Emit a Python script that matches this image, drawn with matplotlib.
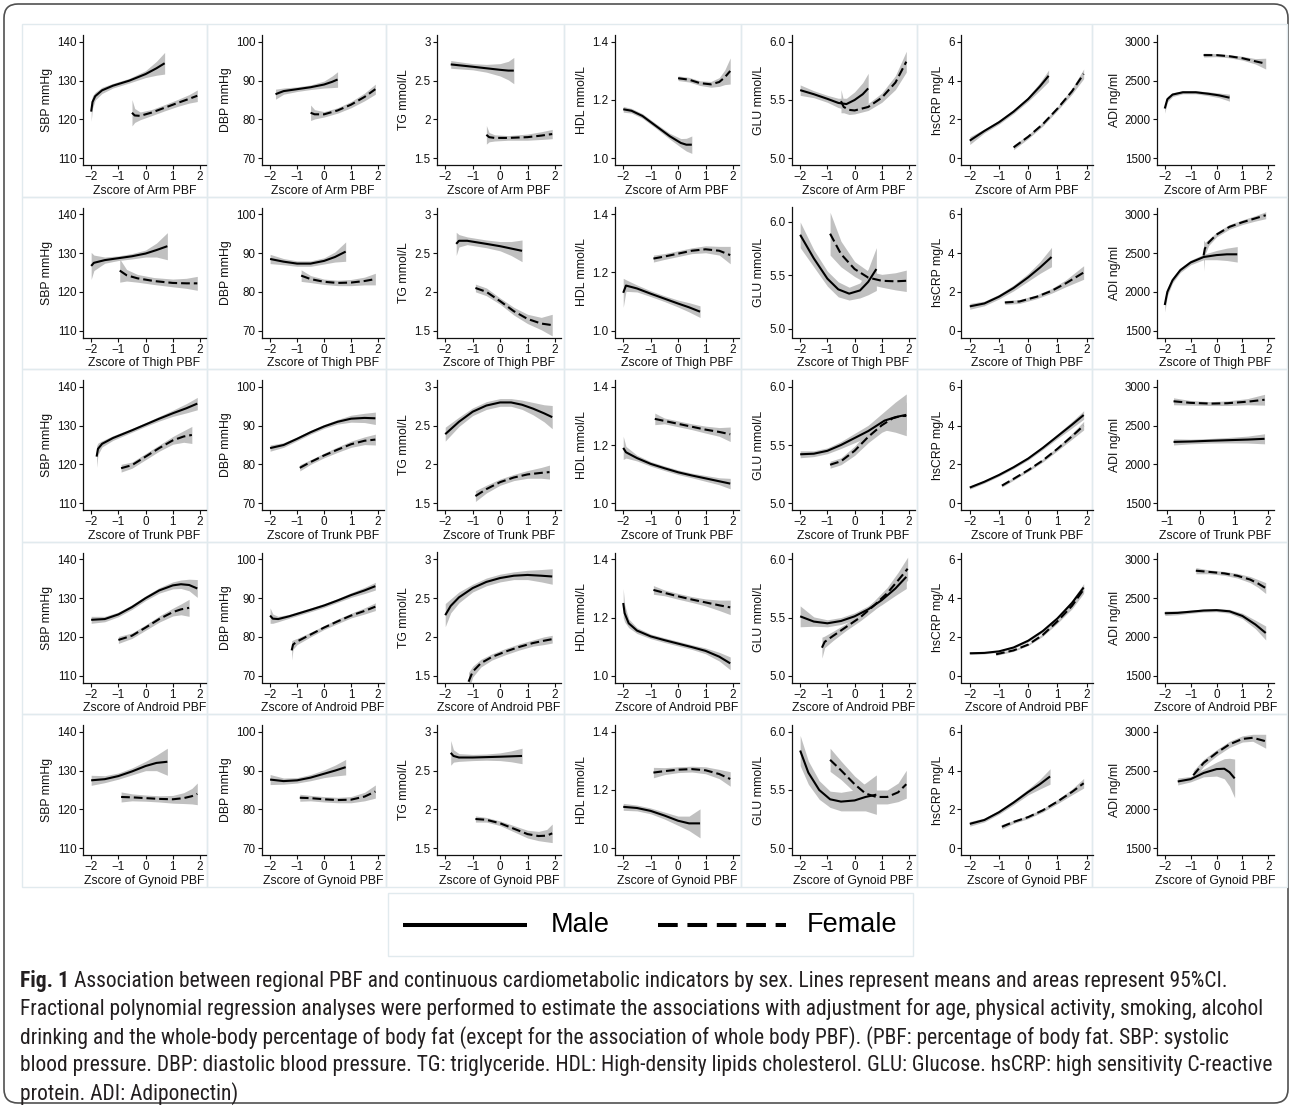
import matplotlib
matplotlib.use("Agg")
import matplotlib.pyplot as plt
from matplotlib import font_manager
from matplotlib.patches import Rectangle, FancyBboxPatch
import numpy as np

# ---------------- data (x = z-score, y = mean, h = CI half width) ----------------
REGIONS = ["Arm", "Thigh", "Trunk", "Android", "Gynoid"]
INDICATORS = ["SBP mmHg", "DBP mmHg", "TG mmol/L", "HDL mmol/L", "GLU mmol/L", "hsCRP mg/L", "ADI ng/ml"]
YTICKS = [[110, 120, 130, 140], [70, 80, 90, 100], [1.5, 2, 2.5, 3], [1.0, 1.2, 1.4],
          [5.0, 5.5, 6.0], [0, 2, 4, 6], [1500, 2000, 2500, 3000]]
YTICKLABELS = [["110", "120", "130", "140"], ["70", "80", "90", "100"], ["1.5", "2", "2.5", "3"],
               ["1.0", "1.2", "1.4"], ["5.0", "5.5", "6.0"], ["0", "2", "4", "6"],
               ["1500", "2000", "2500", "3000"]]
XTICKS = [-2, -1, 0, 1, 2]
XTICKS_TRUNK_ADI = [-1, 0, 1, 2]

# Arm
SBP_ARM_M = [(-2.0, 122.0, 2.5), (-1.95, 124.5, 1.6), (-1.85, 126.0, 1.0), (-1.6, 127.5, 0.8), (-1.2, 128.7, 0.6), (-0.6, 130.0, 0.6), (0.0, 131.7, 0.9), (0.4, 133.2, 1.8), (0.7, 134.5, 2.8)]
SBP_ARM_F = [(-0.5, 121.7, 3.4), (-0.4, 121.0, 1.8), (-0.2, 120.9, 1.0), (0.2, 121.7, 0.8), (0.7, 123.0, 0.8), (1.2, 124.3, 0.9), (1.6, 125.3, 1.1), (1.9, 126.1, 1.5)]
DBP_ARM_M = [(-1.8, 86.5, 1.3), (-1.5, 87.3, 0.8), (-1.0, 87.8, 0.6), (-0.5, 88.3, 0.6), (0.0, 89.0, 0.9), (0.3, 89.7, 1.5), (0.5, 90.3, 2.0)]
DBP_ARM_F = [(-0.5, 81.7, 2.0), (-0.35, 81.3, 1.2), (0.0, 81.3, 0.7), (0.5, 82.3, 0.7), (1.0, 83.8, 0.8), (1.5, 85.8, 1.0), (1.9, 87.8, 1.3)]
TG_ARM_M = [(-1.8, 2.71, 0.05), (-1.0, 2.68, 0.04), (-0.5, 2.66, 0.05), (0.0, 2.64, 0.08), (0.3, 2.63, 0.12), (0.5, 2.63, 0.17)]
TG_ARM_F = [(-0.5, 1.80, 0.12), (-0.4, 1.77, 0.06), (-0.2, 1.76, 0.04), (0.3, 1.76, 0.03), (1.0, 1.77, 0.04), (1.5, 1.79, 0.05), (1.9, 1.81, 0.06)]
HDL_ARM_M = [(-2.0, 1.168, 0.01), (-1.7, 1.163, 0.008), (-1.3, 1.145, 0.008), (-0.8, 1.11, 0.008), (-0.3, 1.075, 0.01), (0.1, 1.052, 0.015), (0.3, 1.046, 0.022), (0.5, 1.046, 0.03)]
HDL_ARM_F = [(0.0, 1.275, 0.008), (0.4, 1.270, 0.008), (0.8, 1.258, 0.008), (1.2, 1.254, 0.01), (1.5, 1.262, 0.015), (1.7, 1.278, 0.025), (1.9, 1.300, 0.045)]
GLU_ARM_M = [(-2.0, 5.585, 0.045), (-1.5, 5.55, 0.03), (-1.0, 5.51, 0.03), (-0.6, 5.475, 0.04), (-0.3, 5.465, 0.05), (0.0, 5.50, 0.07), (0.3, 5.55, 0.1), (0.5, 5.60, 0.13)]
GLU_ARM_F = [(-0.5, 5.49, 0.1), (-0.4, 5.44, 0.05), (-0.2, 5.415, 0.04), (0.0, 5.41, 0.03), (0.5, 5.44, 0.03), (1.0, 5.52, 0.04), (1.5, 5.65, 0.06), (1.9, 5.83, 0.09)]
CRP_ARM_M = [(-2.0, 0.9, 0.2), (-1.5, 1.4, 0.1), (-1.0, 1.85, 0.1), (-0.5, 2.4, 0.1), (0.0, 3.05, 0.12), (0.4, 3.7, 0.2), (0.7, 4.25, 0.3)]
CRP_ARM_F = [(-0.5, 0.55, 0.12), (0.0, 1.1, 0.1), (0.5, 1.75, 0.1), (1.0, 2.55, 0.1), (1.5, 3.45, 0.15), (1.9, 4.35, 0.25)]
ADI_ARM_M = [(-2.0, 2140, 60), (-1.9, 2260, 35), (-1.7, 2320, 25), (-1.3, 2350, 20), (-0.8, 2350, 20), (-0.3, 2330, 25), (0.1, 2310, 30), (0.5, 2280, 45)]
ADI_ARM_F = [(-0.5, 2830, 25), (0.0, 2830, 20), (0.5, 2815, 20), (1.0, 2790, 25), (1.5, 2750, 35), (1.9, 2720, 70)]

# Thigh
SBP_THIGH_M = [(-2.0, 126.7, 3.5), (-1.9, 127.5, 2.0), (-1.5, 128.2, 0.8), (-1.0, 128.7, 0.6), (-0.5, 129.2, 0.7), (0.0, 129.9, 0.9), (0.4, 130.8, 1.8), (0.8, 131.8, 3.5)]
SBP_THIGH_F = [(-0.95, 125.5, 3.0), (-0.7, 124.3, 1.5), (-0.3, 123.5, 1.0), (0.3, 122.8, 0.9), (1.0, 122.3, 1.0), (1.5, 122.2, 1.3), (1.9, 122.2, 1.8)]
DBP_THIGH_M = [(-2.0, 88.5, 1.2), (-1.5, 87.8, 0.8), (-1.0, 87.3, 0.7), (-0.5, 87.3, 0.7), (0.0, 88.0, 0.8), (0.4, 89.0, 1.3), (0.8, 90.4, 2.5)]
DBP_THIGH_F = [(-0.85, 84.2, 1.5), (-0.5, 83.3, 0.9), (0.0, 82.6, 0.7), (0.5, 82.3, 0.7), (1.0, 82.4, 0.8), (1.5, 82.8, 1.0), (1.9, 83.3, 1.5)]
TG_THIGH_M = [(-1.6, 2.62, 0.15), (-1.5, 2.66, 0.08), (-1.2, 2.66, 0.05), (-0.5, 2.62, 0.05), (0.0, 2.59, 0.06), (0.4, 2.56, 0.09), (0.8, 2.53, 0.14)]
TG_THIGH_F = [(-0.9, 2.05, 0.05), (-0.5, 2.0, 0.05), (0.0, 1.88, 0.04), (0.5, 1.75, 0.05), (1.0, 1.65, 0.06), (1.5, 1.59, 0.08), (1.9, 1.57, 0.14)]
HDL_THIGH_M = [(-2.0, 1.13, 0.05), (-1.9, 1.155, 0.02), (-1.5, 1.145, 0.012), (-1.0, 1.127, 0.01), (-0.5, 1.11, 0.01), (0.0, 1.093, 0.012), (0.4, 1.08, 0.016), (0.8, 1.065, 0.02)]
HDL_THIGH_F = [(-0.9, 1.248, 0.012), (-0.5, 1.255, 0.01), (0.0, 1.265, 0.01), (0.5, 1.275, 0.01), (1.0, 1.28, 0.012), (1.5, 1.275, 0.015), (1.9, 1.26, 0.03)]
GLU_THIGH_M = [(-2.0, 5.88, 0.12), (-1.5, 5.66, 0.08), (-1.0, 5.47, 0.07), (-0.6, 5.37, 0.07), (-0.2, 5.33, 0.06), (0.2, 5.36, 0.07), (0.5, 5.44, 0.12), (0.8, 5.56, 0.2)]
GLU_THIGH_F = [(-0.9, 5.89, 0.2), (-0.5, 5.7, 0.12), (0.0, 5.56, 0.07), (0.5, 5.48, 0.06), (1.0, 5.45, 0.06), (1.5, 5.445, 0.08), (1.9, 5.45, 0.1)]
CRP_THIGH_M = [(-2.0, 1.25, 0.15), (-1.5, 1.4, 0.12), (-1.0, 1.75, 0.12), (-0.5, 2.2, 0.15), (0.0, 2.75, 0.2), (0.4, 3.25, 0.3), (0.8, 3.8, 0.5)]
CRP_THIGH_F = [(-0.8, 1.45, 0.1), (-0.3, 1.5, 0.1), (0.3, 1.75, 0.1), (0.8, 2.05, 0.12), (1.3, 2.45, 0.18), (1.9, 3.0, 0.35)]
ADI_THIGH_M = [(-2.0, 1830, 90), (-1.9, 2000, 50), (-1.7, 2150, 35), (-1.4, 2280, 30), (-1.0, 2380, 30), (-0.5, 2450, 35), (0.0, 2475, 60), (0.4, 2485, 80), (0.8, 2485, 100)]
ADI_THIGH_F = [(-0.5, 2470, 200), (-0.45, 2560, 80), (-0.3, 2640, 40), (0.0, 2740, 30), (0.5, 2840, 30), (1.0, 2900, 30), (1.5, 2950, 35), (1.9, 2990, 45)]

# Trunk
SBP_TRUNK_M = [(-1.8, 122.0, 2.8), (-1.75, 124.0, 1.5), (-1.6, 125.3, 0.8), (-1.2, 126.8, 0.6), (-0.5, 128.8, 0.5), (0.0, 130.3, 0.5), (0.5, 131.8, 0.6), (1.0, 133.2, 0.8), (1.5, 134.5, 1.2), (1.9, 135.7, 1.6)]
SBP_TRUNK_F = [(-0.9, 119.0, 1.0), (-0.5, 119.8, 0.8), (0.0, 122.0, 0.8), (0.5, 124.2, 0.8), (1.0, 126.2, 1.0), (1.4, 127.2, 1.5), (1.7, 127.6, 2.2)]
DBP_TRUNK_M = [(-2.0, 84.2, 0.8), (-1.5, 85.0, 0.6), (-1.0, 86.6, 0.5), (-0.5, 88.3, 0.5), (0.0, 89.8, 0.5), (0.5, 91.0, 0.6), (1.0, 91.8, 0.9), (1.5, 92.0, 1.2), (1.9, 91.9, 1.6)]
DBP_TRUNK_F = [(-0.9, 79.1, 0.8), (-0.5, 80.6, 0.6), (0.0, 82.3, 0.6), (0.5, 83.8, 0.7), (1.0, 85.2, 0.8), (1.5, 86.1, 1.0), (1.9, 86.4, 1.4)]
TG_TRUNK_M = [(-2.0, 2.39, 0.09), (-1.5, 2.55, 0.06), (-1.0, 2.68, 0.05), (-0.5, 2.76, 0.05), (0.0, 2.80, 0.05), (0.4, 2.80, 0.05), (0.8, 2.77, 0.06), (1.2, 2.72, 0.08), (1.6, 2.66, 0.11), (1.9, 2.61, 0.15)]
TG_TRUNK_F = [(-0.9, 1.59, 0.07), (-0.5, 1.68, 0.05), (0.0, 1.77, 0.04), (0.5, 1.83, 0.04), (1.0, 1.87, 0.05), (1.5, 1.89, 0.07), (1.8, 1.90, 0.09)]
HDL_TRUNK_M = [(-2.0, 1.19, 0.04), (-1.9, 1.175, 0.02), (-1.5, 1.155, 0.01), (-1.0, 1.135, 0.008), (-0.5, 1.12, 0.008), (0.0, 1.106, 0.008), (0.5, 1.095, 0.008), (1.0, 1.085, 0.01), (1.5, 1.075, 0.012), (1.9, 1.067, 0.018)]
HDL_TRUNK_F = [(-0.85, 1.29, 0.02), (-0.5, 1.283, 0.01), (0.0, 1.273, 0.01), (0.5, 1.263, 0.01), (1.0, 1.253, 0.012), (1.5, 1.245, 0.015), (1.9, 1.237, 0.025)]
GLU_TRUNK_M = [(-2.0, 5.42, 0.03), (-1.5, 5.425, 0.025), (-1.0, 5.45, 0.025), (-0.5, 5.50, 0.03), (0.0, 5.56, 0.04), (0.5, 5.62, 0.05), (1.1, 5.71, 0.08), (1.5, 5.74, 0.13), (1.9, 5.76, 0.18)]
GLU_TRUNK_F = [(-0.9, 5.33, 0.03), (-0.5, 5.36, 0.03), (0.0, 5.45, 0.04), (0.5, 5.57, 0.05), (1.0, 5.67, 0.06), (1.4, 5.73, 0.08), (1.7, 5.75, 0.1), (1.9, 5.75, 0.12)]
CRP_TRUNK_M = [(-2.0, 0.8, 0.08), (-1.5, 1.1, 0.07), (-1.0, 1.45, 0.07), (-0.5, 1.85, 0.07), (0.0, 2.3, 0.08), (0.5, 2.85, 0.09), (1.0, 3.45, 0.12), (1.5, 4.05, 0.17), (1.9, 4.55, 0.22)]
CRP_TRUNK_F = [(-0.9, 0.9, 0.08), (-0.5, 1.25, 0.07), (0.0, 1.7, 0.07), (0.5, 2.2, 0.08), (1.0, 2.8, 0.1), (1.5, 3.45, 0.15), (1.9, 4.0, 0.22)]
ADI_TRUNK_M = [(-0.8, 2290, 40), (-0.3, 2295, 30), (0.3, 2305, 30), (0.8, 2312, 35), (1.4, 2320, 45), (1.9, 2330, 65)]
ADI_TRUNK_F = [(-0.8, 2815, 45), (-0.3, 2795, 30), (0.3, 2785, 25), (0.8, 2790, 30), (1.4, 2810, 40), (1.9, 2835, 70)]

# Android
SBP_ANDROID_M = [(-2.0, 124.4, 0.9), (-1.5, 124.6, 0.7), (-1.0, 125.8, 0.6), (-0.5, 127.7, 0.6), (0.0, 130.0, 0.6), (0.5, 132.0, 0.7), (1.0, 133.3, 0.9), (1.3, 133.6, 1.1), (1.6, 133.4, 1.5), (1.9, 132.5, 2.3)]
SBP_ANDROID_F = [(-1.0, 119.2, 0.9), (-0.5, 120.3, 0.7), (0.0, 122.4, 0.7), (0.5, 124.6, 0.8), (1.0, 126.4, 1.0), (1.3, 127.1, 1.4), (1.6, 127.5, 2.2)]
DBP_ANDROID_M = [(-2.0, 85.5, 2.0), (-1.9, 84.7, 1.2), (-1.7, 84.6, 0.7), (-1.3, 85.3, 0.5), (-0.5, 87.0, 0.5), (0.0, 88.1, 0.5), (0.5, 89.4, 0.5), (1.0, 90.8, 0.6), (1.5, 92.0, 0.8), (1.9, 93.1, 1.0)]
DBP_ANDROID_F = [(-1.2, 76.5, 2.5), (-1.15, 78.0, 1.2), (-1.0, 78.8, 0.8), (-0.5, 80.6, 0.6), (0.0, 82.4, 0.5), (0.5, 84.0, 0.6), (1.0, 85.5, 0.6), (1.5, 86.7, 0.8), (1.9, 87.8, 1.0)]
TG_ANDROID_M = [(-2.0, 2.28, 0.15), (-1.8, 2.40, 0.09), (-1.5, 2.51, 0.07), (-1.0, 2.63, 0.05), (-0.5, 2.71, 0.05), (0.0, 2.76, 0.05), (0.5, 2.79, 0.05), (1.0, 2.80, 0.06), (1.5, 2.79, 0.08), (1.9, 2.78, 0.1)]
TG_ANDROID_F = [(-1.15, 1.42, 0.12), (-1.0, 1.55, 0.07), (-0.7, 1.66, 0.05), (-0.3, 1.74, 0.04), (0.2, 1.81, 0.04), (0.7, 1.87, 0.04), (1.2, 1.92, 0.04), (1.6, 1.95, 0.05), (1.9, 1.97, 0.05)]
HDL_ANDROID_M = [(-2.0, 1.25, 0.05), (-1.95, 1.215, 0.03), (-1.8, 1.18, 0.015), (-1.5, 1.155, 0.01), (-1.0, 1.135, 0.008), (-0.5, 1.122, 0.008), (0.0, 1.11, 0.008), (0.5, 1.098, 0.008), (1.0, 1.085, 0.01), (1.5, 1.065, 0.015), (1.9, 1.042, 0.022)]
HDL_ANDROID_F = [(-0.9, 1.295, 0.015), (-0.5, 1.285, 0.01), (0.0, 1.273, 0.01), (0.5, 1.262, 0.01), (1.0, 1.252, 0.012), (1.5, 1.242, 0.018), (1.9, 1.235, 0.025)]
GLU_ANDROID_M = [(-2.0, 5.51, 0.09), (-1.5, 5.465, 0.04), (-1.0, 5.45, 0.03), (-0.5, 5.47, 0.03), (0.0, 5.51, 0.03), (0.5, 5.57, 0.03), (1.0, 5.65, 0.04), (1.5, 5.75, 0.06), (1.9, 5.85, 0.1)]
GLU_ANDROID_F = [(-1.2, 5.24, 0.09), (-1.1, 5.29, 0.05), (-0.8, 5.34, 0.04), (-0.3, 5.42, 0.03), (0.2, 5.50, 0.03), (0.7, 5.60, 0.04), (1.2, 5.71, 0.05), (1.6, 5.82, 0.07), (1.95, 5.92, 0.1)]
CRP_ANDROID_M = [(-2.0, 1.15, 0.06), (-1.5, 1.17, 0.05), (-1.0, 1.25, 0.05), (-0.5, 1.45, 0.05), (0.0, 1.8, 0.06), (0.5, 2.3, 0.07), (1.0, 2.95, 0.1), (1.5, 3.75, 0.15), (1.9, 4.55, 0.2)]
CRP_ANDROID_F = [(-1.1, 1.1, 0.06), (-0.5, 1.3, 0.05), (0.0, 1.6, 0.05), (0.5, 2.1, 0.07), (1.0, 2.8, 0.1), (1.5, 3.6, 0.15), (1.9, 4.45, 0.2)]
ADI_ANDROID_M = [(-2.0, 2305, 30), (-1.5, 2310, 25), (-1.0, 2325, 20), (-0.5, 2340, 20), (0.0, 2345, 20), (0.5, 2330, 25), (1.0, 2270, 35), (1.5, 2160, 55), (1.9, 2050, 90)]
ADI_ANDROID_F = [(-0.8, 2855, 40), (-0.3, 2840, 25), (0.3, 2820, 25), (0.8, 2790, 30), (1.3, 2740, 40), (1.6, 2690, 50), (1.9, 2630, 70)]

# Gynoid
SBP_GYNOID_M = [(-2.0, 127.5, 1.3), (-1.5, 127.8, 0.9), (-1.0, 128.6, 0.8), (-0.5, 129.8, 0.9), (0.0, 131.2, 1.2), (0.4, 132.0, 2.0), (0.8, 132.3, 3.5)]
SBP_GYNOID_F = [(-0.9, 123.2, 1.3), (-0.5, 123.1, 0.9), (0.0, 122.9, 0.8), (0.5, 122.7, 0.8), (1.0, 122.6, 1.0), (1.4, 122.9, 1.4), (1.7, 123.4, 2.0), (1.9, 124.0, 2.8)]
DBP_GYNOID_M = [(-2.0, 87.7, 1.3), (-1.5, 87.3, 0.8), (-1.0, 87.5, 0.7), (-0.5, 88.2, 0.8), (0.0, 89.2, 1.0), (0.4, 90.0, 1.4), (0.8, 90.9, 2.0)]
DBP_GYNOID_F = [(-0.9, 83.0, 0.9), (-0.5, 82.9, 0.7), (0.0, 82.6, 0.7), (0.5, 82.4, 0.7), (1.0, 82.5, 0.8), (1.5, 83.3, 1.1), (1.9, 84.6, 1.7)]
TG_GYNOID_M = [(-1.8, 2.73, 0.16), (-1.7, 2.69, 0.08), (-1.5, 2.67, 0.05), (-1.0, 2.67, 0.04), (-0.5, 2.675, 0.04), (0.0, 2.68, 0.05), (0.4, 2.685, 0.07), (0.8, 2.69, 0.1)]
TG_GYNOID_F = [(-0.9, 1.875, 0.04), (-0.5, 1.865, 0.03), (0.0, 1.82, 0.03), (0.5, 1.75, 0.04), (1.0, 1.68, 0.05), (1.4, 1.655, 0.06), (1.7, 1.66, 0.08), (1.9, 1.69, 0.12)]
HDL_GYNOID_M = [(-2.0, 1.142, 0.012), (-1.5, 1.138, 0.01), (-1.0, 1.128, 0.01), (-0.5, 1.112, 0.012), (0.0, 1.094, 0.016), (0.4, 1.085, 0.025), (0.8, 1.085, 0.05)]
HDL_GYNOID_F = [(-0.9, 1.26, 0.018), (-0.5, 1.265, 0.012), (0.0, 1.27, 0.01), (0.5, 1.272, 0.01), (1.0, 1.268, 0.012), (1.5, 1.255, 0.016), (1.9, 1.238, 0.025)]
GLU_GYNOID_M = [(-2.0, 5.84, 0.13), (-1.7, 5.65, 0.1), (-1.3, 5.5, 0.08), (-0.9, 5.42, 0.07), (-0.5, 5.40, 0.08), (0.0, 5.41, 0.09), (0.4, 5.44, 0.12), (0.8, 5.46, 0.17)]
GLU_GYNOID_F = [(-0.9, 5.76, 0.1), (-0.5, 5.67, 0.08), (0.0, 5.55, 0.07), (0.4, 5.47, 0.07), (0.8, 5.44, 0.06), (1.2, 5.44, 0.06), (1.6, 5.48, 0.08), (1.9, 5.55, 0.12)]
CRP_GYNOID_M = [(-2.0, 1.25, 0.12), (-1.5, 1.45, 0.1), (-1.0, 1.85, 0.1), (-0.5, 2.35, 0.12), (0.0, 2.9, 0.15), (0.4, 3.3, 0.25), (0.75, 3.7, 0.4)]
CRP_GYNOID_F = [(-0.9, 1.1, 0.12), (-0.5, 1.35, 0.08), (0.0, 1.6, 0.08), (0.5, 1.95, 0.09), (1.0, 2.4, 0.11), (1.5, 2.9, 0.15), (1.9, 3.35, 0.25)]
ADI_GYNOID_M = [(-1.5, 2360, 45), (-1.0, 2390, 35), (-0.5, 2470, 50), (0.0, 2520, 90), (0.3, 2525, 130), (0.5, 2480, 180), (0.7, 2400, 250)]
ADI_GYNOID_F = [(-0.9, 2440, 60), (-0.5, 2600, 45), (0.0, 2730, 40), (0.5, 2840, 40), (1.0, 2910, 40), (1.4, 2925, 45), (1.9, 2880, 90)]

CURVES = [
    [(SBP_ARM_M, SBP_ARM_F), (DBP_ARM_M, DBP_ARM_F), (TG_ARM_M, TG_ARM_F), (HDL_ARM_M, HDL_ARM_F),
     (GLU_ARM_M, GLU_ARM_F), (CRP_ARM_M, CRP_ARM_F), (ADI_ARM_M, ADI_ARM_F)],
    [(SBP_THIGH_M, SBP_THIGH_F), (DBP_THIGH_M, DBP_THIGH_F), (TG_THIGH_M, TG_THIGH_F), (HDL_THIGH_M, HDL_THIGH_F),
     (GLU_THIGH_M, GLU_THIGH_F), (CRP_THIGH_M, CRP_THIGH_F), (ADI_THIGH_M, ADI_THIGH_F)],
    [(SBP_TRUNK_M, SBP_TRUNK_F), (DBP_TRUNK_M, DBP_TRUNK_F), (TG_TRUNK_M, TG_TRUNK_F), (HDL_TRUNK_M, HDL_TRUNK_F),
     (GLU_TRUNK_M, GLU_TRUNK_F), (CRP_TRUNK_M, CRP_TRUNK_F), (ADI_TRUNK_M, ADI_TRUNK_F)],
    [(SBP_ANDROID_M, SBP_ANDROID_F), (DBP_ANDROID_M, DBP_ANDROID_F), (TG_ANDROID_M, TG_ANDROID_F), (HDL_ANDROID_M, HDL_ANDROID_F),
     (GLU_ANDROID_M, GLU_ANDROID_F), (CRP_ANDROID_M, CRP_ANDROID_F), (ADI_ANDROID_M, ADI_ANDROID_F)],
    [(SBP_GYNOID_M, SBP_GYNOID_F), (DBP_GYNOID_M, DBP_GYNOID_F), (TG_GYNOID_M, TG_GYNOID_F), (HDL_GYNOID_M, HDL_GYNOID_F),
     (GLU_GYNOID_M, GLU_GYNOID_F), (CRP_GYNOID_M, CRP_GYNOID_F), (ADI_GYNOID_M, ADI_GYNOID_F)],
]

CAPTION_BOLD = "Fig. 1"
CAPTION_LINES = [
    "Association between regional PBF and continuous cardiometabolic indicators by sex. Lines represent means and areas represent 95%CI.",
    "Fractional polynomial regression analyses were performed to estimate the associations with adjustment for age, physical activity, smoking, alcohol",
    "drinking and the whole-body percentage of body fat (except for the association of whole body PBF). (PBF: percentage of body fat. SBP: systolic",
    "blood pressure. DBP: diastolic blood pressure. TG: triglyceride. HDL: High-density lipids cholesterol. GLU: Glucose. hsCRP: high sensitivity C-reactive",
    "protein. ADI: Adiponectin)",
]

# ---------------- layout / style ----------------
W, H = 1292, 1107
BAND = "#c0c0c0"
CELL_EDGE = "#e1eaee"


def has_font(name):
    try:
        font_manager.findfont(font_manager.FontProperties(family=name), fallback_to_default=False)
        return True
    except Exception:
        return False


AX_FONT = "Liberation Sans" if has_font("Liberation Sans") else "DejaVu Sans"
CAP_FONT = AX_FONT
for cand in ["Liberation Sans Narrow", "DejaVu Sans Condensed", "Roboto Condensed"]:
    if has_font(cand):
        CAP_FONT = cand
        break

plt.rcParams["font.family"] = [AX_FONT, "DejaVu Sans"]

fig = plt.figure(figsize=(W / 100, H / 100), dpi=100)
fig.patch.set_facecolor("white")

over = fig.add_axes([0, 0, 1, 1], zorder=-1)
over.set_xlim(0, W)
over.set_ylim(H, 0)
over.axis("off")

# outer rounded frame
over.add_patch(FancyBboxPatch((4, 4), W - 8, H - 8, boxstyle="round,pad=0,rounding_size=14",
                              fc="none", ec="#505050", lw=1.2))

CELL_X = [22, 207, 386, 564, 741, 917, 1092, 1287]
ROW_TOP = 24
ROW_H = 172.5
AX_LEFT = [83, 262, 437, 615, 792, 961, 1157]
AX_RIGHT = [206, 384, 561, 739, 915, 1093, 1274]
YLIMS = [(108.2, 141.8), (68.2, 101.8), (1.41, 3.09), (0.976, 1.424), (4.94, 6.06), (-0.36, 6.36), (1410, 3090)]

for r in range(5):
    for c in range(7):
        top = ROW_TOP + ROW_H * r
        over.add_patch(Rectangle((CELL_X[c], top), CELL_X[c + 1] - CELL_X[c], ROW_H,
                                 fc="none", ec=CELL_EDGE, lw=1.0))
        ax_top = 35 + ROW_H * r
        ax_bot = 165 + ROW_H * r
        ax = fig.add_axes([AX_LEFT[c] / W, 1 - ax_bot / H, (AX_RIGHT[c] - AX_LEFT[c]) / W, (ax_bot - ax_top) / H])
        ax.set_facecolor("none")
        male, female = CURVES[r][c]
        for pts in (male, female):
            a = np.array(pts, dtype=float)
            ax.fill_between(a[:, 0], a[:, 1] - a[:, 2], a[:, 1] + a[:, 2], color=BAND, lw=0, zorder=1)
        am = np.array(male, dtype=float)
        af = np.array(female, dtype=float)
        ax.plot(am[:, 0], am[:, 1], color="black", lw=1.5, zorder=3, solid_capstyle="butt")
        ax.plot(af[:, 0], af[:, 1], color="black", lw=1.5, zorder=3, dashes=(4.2, 1.9), dash_capstyle="butt")

        ylo, yhi = YLIMS[c]
        if c == 4 and r == 1:
            ylo, yhi = 4.92, 6.135
        ax.set_ylim(ylo, yhi)
        if r == 2 and c == 6:
            ax.set_xlim(-1.29, 2.18)
            xt = XTICKS_TRUNK_ADI
        else:
            ax.set_xlim(-2.3, 2.22)
            xt = XTICKS
        ax.set_xticks(xt)
        ax.set_xticklabels([str(v).replace("-", "\u2212") for v in xt])
        ax.set_yticks(YTICKS[c])
        ax.set_yticklabels(YTICKLABELS[c])
        for s in ("top", "right"):
            ax.spines[s].set_visible(False)
        for s in ("left", "bottom"):
            ax.spines[s].set_linewidth(0.9)
            ax.spines[s].set_color("#111111")
        ax.tick_params(axis="both", length=3, width=0.8, labelsize=8.4, pad=1.5, colors="#111111")
        ax.set_xlabel("Zscore of %s PBF" % REGIONS[r], fontsize=8.8, labelpad=1.0, color="#111111")
        ax.set_ylabel(INDICATORS[c], fontsize=8.8, labelpad=3.0, color="#111111")

# legend box
over.add_patch(Rectangle((388, 893), 525, 63, fc="none", ec=CELL_EDGE, lw=1.0))
over.plot([403, 527], [925, 925], color="black", lw=2.9, solid_capstyle="butt")
over.text(551, 925, "Male", fontsize=19.5, va="center", ha="left", family=AX_FONT)
over.plot([658, 786], [925, 925], color="black", lw=2.9, dashes=(4.9, 2.4), dash_capstyle="butt")
over.text(807, 925, "Female", fontsize=19.5, va="center", ha="left", family=AX_FONT)

# caption
cap_color = "#231f20"
fs = 13.0
ys = [981, 1009, 1038, 1066, 1094]
bold_t = over.text(20, ys[0], CAPTION_BOLD, fontsize=fs, weight="bold", family=CAP_FONT,
                   va="center", ha="left", color=cap_color)
texts = []
for i, line in enumerate(CAPTION_LINES):
    texts.append(over.text(20, ys[i], line, fontsize=fs, family=CAP_FONT, va="center", ha="left", color=cap_color))

fig.canvas.draw()
renderer = fig.canvas.get_renderer()
w4 = max(texts[1].get_window_extent(renderer).width, texts[3].get_window_extent(renderer).width)
scale = (1272 - 20) / w4
fs2 = fs * scale
bold_t.set_fontsize(fs2)
for t in texts:
    t.set_fontsize(fs2)
fig.canvas.draw()
bw = bold_t.get_window_extent(renderer).width
texts[0].set_x(20 + bw + fs2 * 0.3)

fig.savefig("out.png", dpi=100, facecolor="white")
